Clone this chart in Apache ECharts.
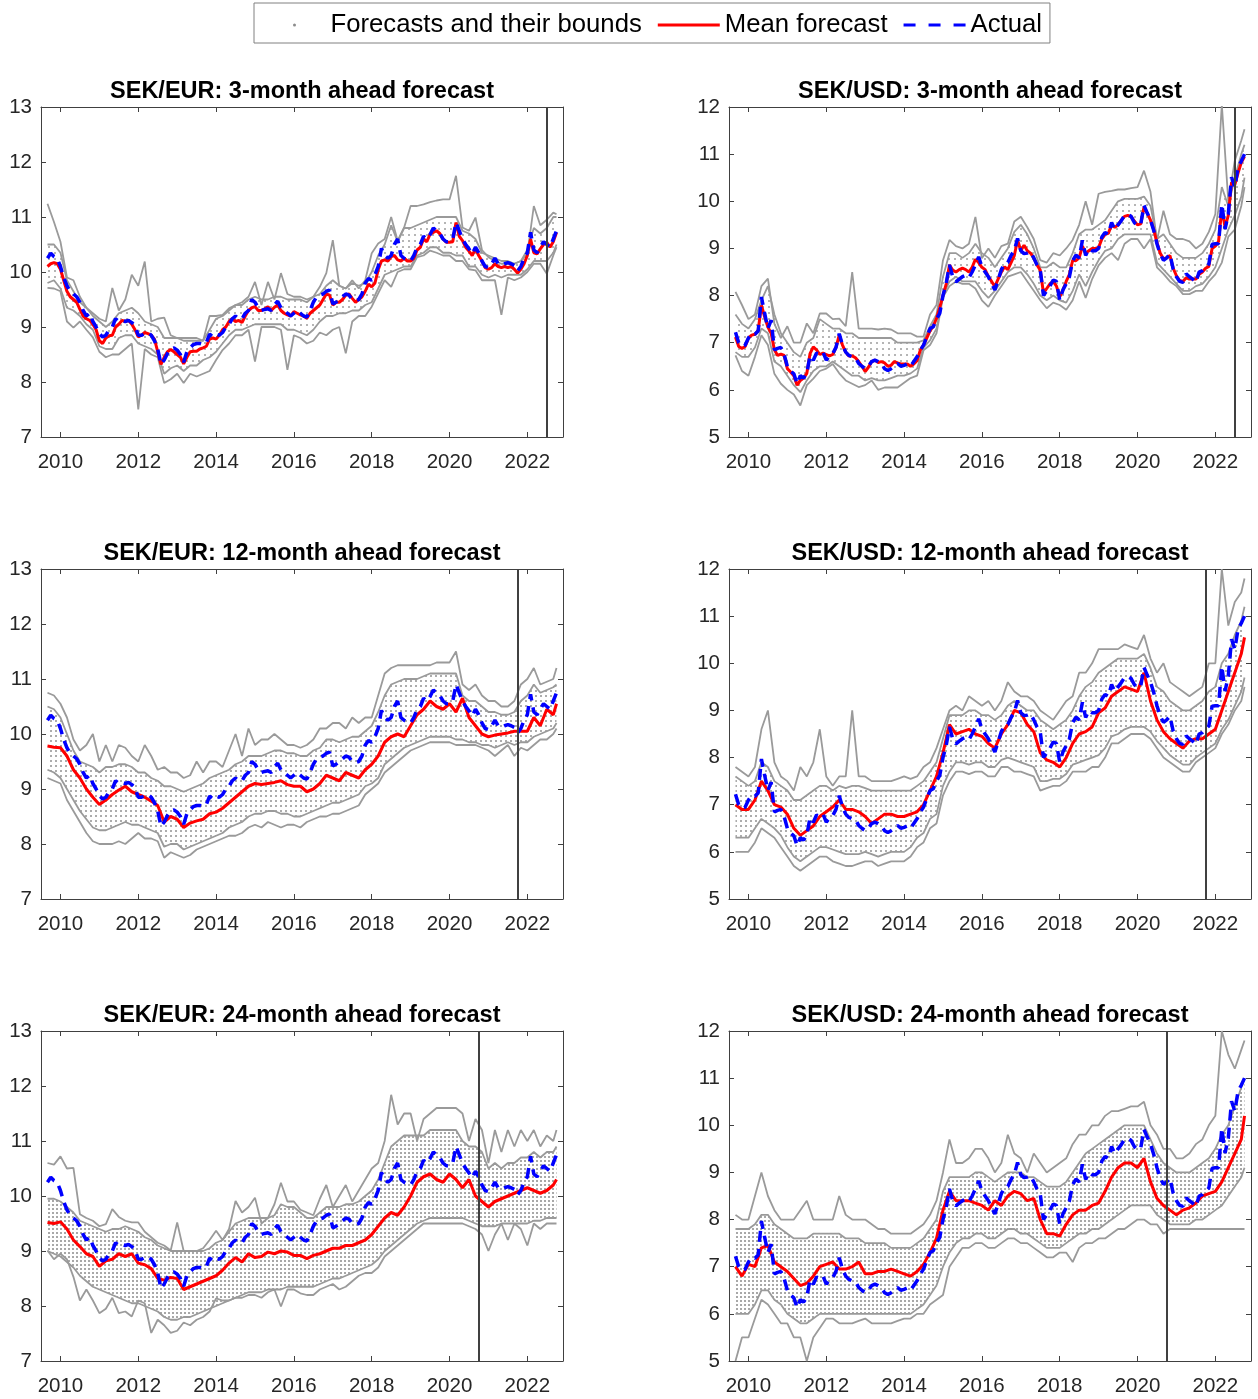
<!DOCTYPE html>
<html><head><meta charset="utf-8">
<script src="https://cdn.jsdelivr.net/npm/echarts@6/dist/echarts.min.js"></script>
<style>html,body{margin:0;padding:0;background:#fff}#c{width:1258px;height:1399px}</style>
</head><body><div id="c"></div><script>
// ---------- time grid: monthly Sep 2009 .. Oct 2022 ----------
const startYear = 2009, startMonthIndex = 8, monthCount = 158;
const yearTicks = [2010, 2012, 2014, 2016, 2018, 2020, 2022];
const titles = ['SEK/EUR: 3-month ahead forecast','SEK/USD: 3-month ahead forecast','SEK/EUR: 12-month ahead forecast','SEK/USD: 12-month ahead forecast','SEK/EUR: 24-month ahead forecast','SEK/USD: 24-month ahead forecast'];
const cutoffDates = [2022.5, 2022.5, 2021.75, 2021.75, 2020.75, 2020.75];

// ---------- actual exchange rates (monthly) ----------
const actualEUR = [
10.25,10.34,10.28,10.25,
10.1,9.9,9.75,9.65,9.6,9.55,9.45,9.3,9.2,9.25,9.1,9.0,
8.88,8.82,8.85,8.95,9.0,9.15,9.1,9.12,9.1,9.12,9.08,9.02,
8.85,8.85,8.88,8.9,8.85,8.75,8.6,8.32,8.4,8.52,8.6,8.62,
8.58,8.5,8.36,8.55,8.62,8.68,8.7,8.7,8.68,8.72,8.87,8.82,
8.87,8.85,8.9,9.0,9.05,9.15,9.2,9.15,9.15,9.25,9.3,9.5,
9.45,9.35,9.3,9.32,9.33,9.3,9.4,9.47,9.35,9.3,9.25,9.2,
9.25,9.3,9.25,9.2,9.18,9.3,9.45,9.55,9.58,9.6,9.65,9.67,
9.42,9.45,9.5,9.55,9.6,9.58,9.5,9.48,9.5,9.6,9.8,9.88,
9.85,9.95,10.1,10.43,10.3,10.25,10.3,10.5,10.6,10.3,10.25,10.22,
10.2,10.3,10.45,10.5,10.65,10.6,10.68,10.8,10.75,10.7,10.6,10.55,
10.55,10.6,10.9,10.75,10.6,10.5,10.42,10.33,10.45,10.35,10.2,10.1,
10.08,10.15,10.25,10.15,10.12,10.15,10.17,10.15,10.12,10.02,10.1,10.25,
10.35,10.72,10.4,10.35,10.45,10.55,10.5,10.45,10.6,10.75];
const actualUSD = [
7.22,7.0,6.92,6.95,
7.1,7.2,7.18,7.25,7.97,7.62,7.3,7.48,6.85,6.88,6.9,6.75,
6.5,6.4,6.34,6.13,6.3,6.25,6.35,6.73,6.63,6.78,6.75,6.8,
6.63,6.72,6.77,6.9,7.19,6.95,6.8,6.73,6.7,6.68,6.56,6.5,
6.45,6.5,6.6,6.63,6.6,6.55,6.45,6.41,6.45,6.5,6.56,6.5,
6.52,6.55,6.5,6.6,6.7,6.84,6.95,7.13,7.3,7.34,7.5,7.62,
8.0,8.26,8.65,8.4,8.29,8.35,8.4,8.43,8.38,8.5,8.65,8.82,
8.61,8.5,8.4,8.25,8.12,8.33,8.55,8.68,8.7,8.85,8.96,9.21,
8.95,8.89,8.9,8.93,8.8,8.65,8.54,8.0,8.1,8.2,8.33,8.3,
7.9,8.12,8.25,8.4,8.74,8.86,8.8,9.17,8.85,9.0,8.95,8.95,
9.0,9.24,9.34,9.3,9.55,9.4,9.5,9.59,9.7,9.72,9.68,9.55,
9.48,9.52,9.91,9.75,9.6,9.38,9.1,8.88,8.75,8.8,8.88,8.56,
8.4,8.3,8.28,8.46,8.4,8.35,8.28,8.5,8.53,8.6,8.67,9.09,
9.1,9.1,9.94,9.41,9.73,10.51,10.3,10.72,10.85,11.0];

// ---------- mean forecasts ----------
// 3-month horizon: monthly
const mean3EUR = [
10.1,10.15,10.17,10.15,
10.05,9.85,9.65,9.55,9.5,9.45,9.32,9.2,9.15,9.12,9.05,8.95,
8.75,8.7,8.8,8.84,8.85,9.0,9.05,9.12,9.1,9.12,9.05,8.95,
8.82,8.85,8.9,8.88,8.85,8.78,8.55,8.32,8.45,8.55,8.59,8.55,
8.5,8.45,8.33,8.45,8.55,8.56,8.56,8.6,8.62,8.65,8.78,8.8,
8.78,8.85,8.95,9.0,9.1,9.15,9.1,9.12,9.08,9.2,9.3,9.35,
9.37,9.3,9.3,9.33,9.37,9.3,9.36,9.4,9.3,9.25,9.22,9.2,
9.28,9.25,9.22,9.2,9.16,9.25,9.3,9.35,9.4,9.5,9.6,9.58,
9.4,9.45,9.45,9.5,9.58,9.6,9.52,9.45,9.5,9.55,9.65,9.78,
9.73,9.8,10.04,10.2,10.22,10.2,10.28,10.3,10.22,10.2,10.25,10.2,
10.2,10.25,10.4,10.45,10.6,10.55,10.69,10.72,10.75,10.7,10.6,10.54,
10.54,10.55,10.9,10.65,10.57,10.45,10.38,10.3,10.42,10.3,10.2,10.08,
10.05,10.08,10.15,10.1,10.08,10.1,10.08,10.1,10.05,9.98,10.05,10.15,
10.3,10.6,10.35,10.33,10.42,10.5,10.54,10.45,10.55,10.72];
const mean3USD = [
7.12,6.92,6.88,6.92,
7.1,7.16,7.18,7.26,7.79,7.55,7.33,7.2,6.85,6.73,6.76,6.73,
6.45,6.38,6.3,6.1,6.2,6.25,6.35,6.77,6.91,6.85,6.75,6.78,
6.75,6.72,6.75,6.9,7.16,6.95,6.8,6.72,6.72,6.68,6.6,6.5,
6.39,6.48,6.6,6.63,6.58,6.6,6.57,6.5,6.52,6.6,6.57,6.55,
6.55,6.55,6.5,6.55,6.62,6.84,6.95,7.1,7.25,7.35,7.52,7.75,
8.0,8.25,8.65,8.54,8.5,8.55,8.58,8.55,8.5,8.6,8.77,8.7,
8.6,8.55,8.4,8.3,8.19,8.35,8.5,8.61,8.55,8.7,8.85,9.18,
8.95,9.07,8.95,8.9,8.8,8.65,8.54,8.05,8.15,8.25,8.3,8.2,
7.97,8.12,8.3,8.45,8.75,8.74,8.8,9.05,8.9,8.95,9.0,9.0,
9.02,9.2,9.3,9.32,9.5,9.45,9.5,9.6,9.68,9.7,9.68,9.58,
9.5,9.52,9.88,9.75,9.6,9.4,9.12,8.9,8.78,8.8,8.85,8.58,
8.42,8.32,8.3,8.38,8.35,8.35,8.35,8.45,8.5,8.58,8.62,9.0,
9.05,9.15,9.85,9.45,9.7,10.4,10.35,10.6,10.82,10.95];
// 12- and 24-month horizons: every second month (Sep09, Nov09, Jan..Nov each year, 2022: Jan,Mar,May,Jul,Sep,Oct)
const mean12EUR = [9.78,9.76,
9.75,9.6,9.35,9.2,9.0,8.85, 8.72,8.8,8.9,8.98,9.05,8.95, 8.9,8.85,8.78,8.7,8.4,8.5,
8.45,8.3,8.38,8.42,8.45,8.55, 8.58,8.65,8.75,8.85,8.95,9.05, 9.1,9.08,9.1,9.12,9.15,9.08,
9.05,9.05,8.95,9.0,9.1,9.25, 9.2,9.15,9.3,9.25,9.2,9.35, 9.45,9.6,9.85,9.95,10.0,9.95,
10.15,10.35,10.45,10.6,10.5,10.45, 10.55,10.4,10.65,10.3,10.15,10.0, 9.95,9.98,10.0,10.02,10.05,10.05,
10.05,10.3,10.15,10.45,10.35,10.55];
const mean12USD = [7.0,6.9,
6.9,7.1,7.5,7.3,7.0,6.95, 6.8,6.5,6.35,6.45,6.55,6.75, 6.85,6.95,7.1,6.9,6.9,6.85,
6.75,6.6,6.7,6.8,6.8,6.75, 6.75,6.8,6.85,7.0,7.3,7.6, 8.1,8.7,8.5,8.55,8.6,8.5,
8.45,8.3,8.2,8.5,8.7,9.0, 8.95,8.7,8.55,8.1,7.95,7.9, 7.8,8.0,8.3,8.5,8.55,8.65,
8.95,9.05,9.3,9.4,9.5,9.45, 9.4,9.8,9.2,8.8,8.55,8.4, 8.3,8.2,8.35,8.4,8.4,8.5,
8.6,9.0,9.4,9.8,10.2,10.55];
const mean24EUR = [9.52,9.5,
9.53,9.4,9.2,9.08,8.95,8.9, 8.72,8.82,8.85,8.95,8.9,8.95, 8.78,8.75,8.68,8.5,8.47,8.52,
8.5,8.3,8.35,8.4,8.45,8.5, 8.55,8.65,8.78,8.88,8.8,8.95, 8.88,8.9,8.98,8.95,9.0,8.98,
8.92,8.92,8.86,8.92,8.95,9.0, 9.05,9.05,9.1,9.1,9.15,9.2, 9.3,9.45,9.6,9.7,9.65,9.8,
10.0,10.25,10.35,10.4,10.3,10.25, 10.4,10.3,10.15,10.3,10.0,9.9, 9.8,9.9,9.95,10.0,10.05,10.1,
10.15,10.1,10.05,10.1,10.2,10.3];
const mean24USD = [7.0,6.8,
7.05,7.0,7.4,7.45,7.1,7.0, 6.9,6.75,6.6,6.65,6.8,7.0, 7.05,7.1,6.95,6.95,7.0,7.1,
6.85,6.85,6.9,6.9,6.95,6.9, 6.85,6.8,6.9,7.05,7.3,7.6, 8.2,8.6,8.4,8.4,8.4,8.35,
8.3,8.2,8.4,8.3,8.5,8.6, 8.55,8.4,8.45,8.0,7.7,7.7, 7.65,7.9,8.1,8.2,8.2,8.3,
8.35,8.6,8.9,9.1,9.2,9.2, 9.1,9.3,8.8,8.45,8.3,8.2, 8.1,8.2,8.25,8.35,8.5,8.55,
8.6,8.8,9.1,9.4,9.7,10.2];

// ---------- bounds of the forecasts (every second month) ----------
const upperOuter3EUR = [11.24,10.91,
10.55,9.9,9.85,9.55,9.35,9.25, 9.15,9.1,9.71,9.3,9.5,9.95, 9.75,10.19,9.1,9.15,9.17,8.85,
8.8,8.8,8.8,8.8,8.75,9.2, 9.2,9.22,9.34,9.4,9.45,9.55, 9.82,9.4,9.82,9.5,9.98,9.6,
9.55,9.55,9.5,9.55,9.73,9.98, 10.58,9.75,9.7,9.85,9.7,9.85, 10.34,10.52,10.6,11.0,10.57,10.81,
11.2,11.2,11.23,11.27,11.3,11.32, 11.32,11.75,10.81,10.75,10.99,10.4, 10.27,10.2,10.15,10.15,10.15,10.2,
10.33,11.2,10.85,10.95,11.08,11.05];
const upperInner3EUR = [10.5,10.5,
10.35,9.85,9.65,9.45,9.35,9.2, 9.1,9.0,9.1,9.25,9.3,9.35, 9.25,9.1,9.05,9.0,8.8,8.8,
8.8,8.75,8.75,8.75,8.75,8.95, 9.15,9.2,9.3,9.4,9.4,9.5, 9.55,9.5,9.5,9.55,9.55,9.5,
9.5,9.5,9.45,9.55,9.6,9.75, 9.85,9.75,9.7,9.8,9.75,9.8, 10.0,10.3,10.5,10.85,10.55,10.8,
10.8,10.85,10.9,10.95,11.0,11.0, 11.0,11.0,10.75,10.7,10.6,10.35, 10.3,10.25,10.2,10.2,10.15,10.2,
10.4,10.8,10.7,10.8,11.0,11.0];
const lowerInner3EUR = [9.8,9.85,
9.7,9.35,9.3,9.2,9.05,8.95, 8.65,8.6,8.6,8.8,8.85,8.85, 8.7,8.65,8.6,8.5,8.15,8.25,
8.3,8.2,8.3,8.3,8.4,8.45, 8.55,8.7,8.85,8.95,8.95,9.0, 9.05,9.05,9.05,9.05,9.05,8.95,
8.95,8.9,8.85,8.95,9.1,9.2, 9.2,9.25,9.25,9.3,9.3,9.4, 9.45,9.7,9.95,10.0,10.05,10.1,
10.1,10.3,10.35,10.45,10.45,10.35, 10.35,10.3,10.3,10.1,10.1,9.95, 9.9,9.95,9.9,9.95,9.95,9.95,
10.05,10.2,10.2,10.2,10.35,10.5];
const lowerOuter3EUR = [9.71,9.7,
9.65,9.1,8.99,9.1,8.95,8.81, 8.55,8.45,8.5,8.5,8.6,8.7, 7.5,8.6,8.5,8.45,7.98,8.05,
8.15,7.98,8.15,8.1,8.15,8.2, 8.4,8.58,8.7,8.85,8.85,8.95, 8.37,9.0,9.0,9.0,8.95,8.22,
8.85,8.8,8.7,8.75,8.9,8.85, 8.95,9.0,8.52,9.1,9.2,9.2, 9.37,9.61,9.85,9.73,10.0,10.05,
10.05,10.27,10.3,10.39,10.35,10.3, 10.3,10.2,10.2,10.05,10.03,9.85, 9.85,9.85,9.22,9.9,9.85,9.9,
10.0,10.15,10.15,9.97,10.3,10.45];

const upperOuter3USD = [8.08,7.8,
7.5,7.6,8.2,8.36,7.4,7.1, 7.35,7.0,7.0,7.41,7.2,7.62, 7.62,7.5,7.51,7.35,8.5,7.3,
7.3,7.3,7.28,7.3,7.28,7.2, 7.2,7.2,7.13,7.13,7.6,7.8, 8.75,9.18,9.05,9.0,9.1,9.67,
8.79,9.0,8.8,9.05,9.1,9.57, 9.67,9.45,9.2,8.75,8.7,8.9, 8.85,9.0,9.18,9.5,10.0,9.5,
10.16,10.2,10.22,10.25,10.25,10.28, 10.3,10.65,10.2,9.17,9.8,9.3, 9.2,9.2,9.15,9.0,9.1,9.35,
9.73,12.05,10.0,10.86,11.29,11.53];
const upperInner3USD = [7.6,7.4,
7.3,7.5,7.9,8.2,7.6,7.2, 7.0,6.8,6.7,7.0,7.1,7.5, 7.4,7.3,7.3,7.2,7.2,7.1,
7.1,7.1,7.1,7.1,7.1,7.0, 7.0,7.0,7.0,7.05,7.35,7.6, 8.4,8.9,8.9,8.8,8.9,9.1,
8.9,8.8,8.6,8.8,9.0,9.35, 9.5,9.3,9.0,8.6,8.6,8.7, 8.6,8.6,8.9,9.3,9.4,9.4,
9.5,9.6,9.8,10.0,10.05,10.05, 10.05,10.1,9.9,9.2,9.3,9.1, 8.9,8.8,8.8,8.8,8.9,9.1,
9.4,10.3,9.9,10.5,11.0,11.2];
const lowerInner3USD = [6.8,6.7,
6.7,6.9,7.3,7.2,6.6,6.5, 6.3,6.1,5.95,6.2,6.4,6.5, 6.5,6.6,6.5,6.4,6.3,6.3,
6.2,6.25,6.2,6.2,6.25,6.3, 6.3,6.35,6.45,6.9,7.05,7.3, 8.0,8.3,8.4,8.3,8.3,8.3,
8.1,7.95,8.1,8.3,8.5,8.6, 8.6,8.45,8.25,8.0,7.9,8.0, 7.9,7.85,8.1,8.45,8.2,8.5,
8.75,8.95,9.0,9.2,9.3,9.3, 9.3,9.3,9.3,8.7,8.55,8.4, 8.25,8.1,8.1,8.2,8.25,8.4,
8.6,9.0,9.4,9.7,10.1,10.5];
const lowerOuter3USD = [6.73,6.4,
6.3,6.7,7.16,6.95,6.34,6.13, 6.0,5.9,5.67,6.1,6.24,6.4, 6.45,6.55,6.35,6.2,6.13,6.06,
6.1,6.2,6.0,6.05,6.05,6.05, 6.15,6.25,6.3,6.84,6.95,7.2, 7.97,8.2,8.3,8.25,8.25,8.15,
7.9,7.76,8.0,8.2,8.4,8.45, 8.5,8.3,8.1,7.9,7.73,7.85, 7.8,7.7,7.9,8.3,7.95,8.35,
8.64,8.8,8.9,8.75,9.1,9.2, 9.2,9.0,9.2,8.6,8.46,8.3, 8.2,8.03,8.03,8.1,8.1,8.3,
8.45,8.7,9.25,9.4,9.9,10.3];

const upperOuter12EUR = [10.75,10.7,
10.55,10.3,9.9,9.7,9.8,10.0, 9.5,9.8,9.5,9.8,9.75,9.6, 9.5,9.8,9.6,9.35,9.4,9.3,
9.3,9.2,9.25,9.5,9.3,9.5, 9.5,9.4,9.7,10.0,9.6,10.1, 9.8,9.9,9.9,10.0,9.9,9.8,
9.8,9.75,9.8,9.9,10.1,10.1, 10.2,10.2,10.1,10.3,10.2,10.3, 10.3,10.7,11.1,11.2,11.25,11.25,
11.25,11.25,11.25,11.25,11.3,11.3, 11.3,11.5,10.9,10.8,10.9,10.7, 10.6,10.6,10.5,10.5,10.6,10.9,
11.0,11.2,10.9,10.95,11.0,11.2];
const upperInner12EUR = [10.5,10.45,
10.3,10.0,9.7,9.5,9.45,9.4, 9.3,9.4,9.4,9.45,9.45,9.4, 9.3,9.3,9.2,9.15,9.05,9.05,
9.0,8.95,9.0,9.05,9.1,9.2, 9.25,9.3,9.35,9.45,9.5,9.6, 9.6,9.6,9.65,9.7,9.7,9.65,
9.65,9.6,9.6,9.7,9.75,9.9, 9.9,9.85,9.9,9.95,9.95,10.05, 10.15,10.4,10.7,10.9,10.95,11.0,
11.0,11.0,11.05,11.1,11.1,11.1, 11.1,11.1,10.7,10.6,10.6,10.5, 10.4,10.4,10.35,10.35,10.4,10.6,
10.7,10.9,10.75,10.8,10.85,10.9];
const lowerInner12EUR = [9.35,9.3,
9.2,9.0,8.8,8.6,8.45,8.3, 8.25,8.25,8.3,8.35,8.4,8.35, 8.35,8.3,8.25,8.2,7.95,8.0,
8.0,7.9,7.95,8.0,8.05,8.1, 8.15,8.2,8.3,8.35,8.4,8.5, 8.55,8.55,8.6,8.6,8.55,8.55,
8.5,8.5,8.55,8.6,8.65,8.7, 8.75,8.75,8.8,8.85,8.9,9.05, 9.1,9.2,9.45,9.55,9.65,9.75,
9.8,9.85,9.9,9.95,9.95,9.95, 9.95,9.9,9.9,9.85,9.85,9.8, 9.8,9.75,9.8,9.85,9.8,9.85,
9.85,9.95,10.0,10.05,10.1,10.2];
const lowerOuter12EUR = [9.2,9.15,
9.1,8.8,8.6,8.4,8.2,8.05, 8.0,8.0,8.0,8.05,8.0,8.1, 8.2,8.1,8.1,8.05,7.75,7.85,
7.8,7.75,7.8,7.9,7.95,8.0, 8.05,8.1,8.15,8.15,8.2,8.3, 8.35,8.3,8.4,8.35,8.3,8.35,
8.35,8.3,8.4,8.45,8.5,8.5, 8.55,8.55,8.6,8.65,8.7,8.9, 9.0,9.1,9.3,9.4,9.5,9.6,
9.7,9.75,9.8,9.85,9.85,9.85, 9.85,9.8,9.8,9.8,9.8,9.75, 9.7,9.6,9.7,9.8,9.6,9.75,
9.7,9.8,9.9,9.9,10.0,10.1];

const upperOuter12USD = [7.8,7.7,
7.6,7.8,8.6,9.0,7.9,7.6, 7.5,7.3,7.8,7.6,7.9,8.6, 7.6,7.4,7.6,7.6,9.0,7.6,
7.6,7.5,7.5,7.5,7.5,7.55, 7.6,7.55,7.6,7.8,7.9,8.2, 8.6,9.0,9.1,9.0,9.3,9.2,
9.1,9.2,9.0,9.2,9.6,9.4, 9.3,9.3,9.2,9.0,8.9,8.8, 9.0,9.2,9.3,9.8,9.8,10.0,
10.3,10.3,10.3,10.3,10.4,10.35, 10.3,10.6,10.1,9.8,10.0,9.6, 9.5,9.4,9.3,9.4,9.5,10.0,
10.0,12.0,10.8,11.3,11.5,11.8];
const upperInner12USD = [7.6,7.5,
7.4,7.5,7.9,7.8,7.5,7.4, 7.3,7.1,7.1,7.2,7.3,7.4, 7.4,7.3,7.4,7.35,7.4,7.4,
7.35,7.3,7.3,7.3,7.3,7.3, 7.3,7.3,7.4,7.5,7.7,7.9, 8.4,8.9,8.9,8.9,9.0,9.0,
8.9,8.9,8.8,8.9,9.1,9.2, 9.1,9.0,9.0,8.8,8.7,8.6, 8.7,8.8,9.0,9.3,9.5,9.6,
9.8,9.9,10.0,10.1,10.1,10.1, 10.1,10.2,9.9,9.5,9.4,9.2, 9.1,9.0,9.0,9.1,9.2,9.4,
9.5,10.0,10.2,10.6,10.9,11.2];
const lowerInner12USD = [6.3,6.3,
6.3,6.5,6.7,6.6,6.5,6.35, 6.1,5.9,5.8,5.9,6.0,6.1, 6.1,6.05,6.0,5.95,5.95,5.95,
6.0,5.95,5.9,5.95,6.0,6.0, 6.0,6.1,6.3,6.4,6.7,6.8, 7.4,7.7,7.9,7.9,7.85,7.9,
7.9,7.8,7.8,7.95,8.0,7.95, 7.9,7.85,7.8,7.5,7.5,7.55, 7.55,7.65,7.85,7.9,7.95,8.0,
8.05,8.2,8.45,8.5,8.6,8.65, 8.65,8.65,8.55,8.35,8.2,8.05, 7.95,7.85,7.85,8.0,8.1,8.2,
8.3,8.6,8.8,9.1,9.4,9.7];
const lowerOuter12USD = [6.0,6.0,
6.0,6.2,6.5,6.4,6.3,6.1, 5.9,5.7,5.6,5.7,5.8,5.9, 5.9,5.8,5.75,5.7,5.7,5.75,
5.8,5.8,5.7,5.75,5.8,5.8, 5.8,5.9,6.1,6.2,6.5,6.6, 7.2,7.5,7.7,7.7,7.65,7.7,
7.7,7.6,7.6,7.8,7.8,7.7, 7.7,7.65,7.6,7.3,7.35,7.4, 7.4,7.5,7.7,7.7,7.7,7.8,
7.8,8.0,8.3,8.3,8.4,8.5, 8.5,8.5,8.4,8.2,8.0,7.9, 7.8,7.7,7.7,7.9,8.0,8.1,
8.2,8.5,8.7,9.0,9.2,9.5];

const upperOuter24EUR = [10.6,10.57,
10.72,10.5,10.51,9.67,9.6,9.55, 9.45,9.49,9.76,9.62,9.55,9.52, 9.52,9.35,9.25,9.15,9.1,9.01,
9.52,9.0,9.0,9.0,9.05,9.2, 9.37,9.2,9.4,9.91,9.7,9.8, 9.97,9.5,9.6,9.85,10.24,9.9,
9.9,9.75,9.7,9.65,9.95,10.2, 9.8,10.0,10.2,9.9,10.1,10.3, 10.5,10.6,11.0,11.84,11.3,11.5,
11.5,11.0,11.4,11.5,11.6,11.6, 11.6,11.6,11.5,11.0,11.4,11.2, 10.6,11.2,10.8,11.2,10.9,11.2,
11.0,11.2,10.9,11.1,11.0,11.2];
const upperInner24EUR = [9.95,9.95,
9.9,9.8,9.7,9.55,9.5,9.45, 9.4,9.35,9.4,9.4,9.45,9.4, 9.35,9.25,9.2,9.1,9.05,9.0,
9.0,9.0,9.0,9.0,9.0,9.05, 9.15,9.2,9.35,9.5,9.55,9.6, 9.6,9.6,9.6,9.65,9.85,9.8,
9.8,9.7,9.6,9.6,9.7,9.8, 9.8,9.8,9.85,9.85,9.9,10.0, 10.1,10.3,10.6,10.9,11.0,11.1,
11.1,11.1,11.1,11.2,11.2,11.2, 11.2,11.2,11.0,10.9,10.9,10.8, 10.5,10.6,10.5,10.6,10.6,10.7,
10.7,10.8,10.7,10.8,10.8,10.9];
const lowerInner24EUR = [9.0,8.95,
8.9,8.8,8.7,8.55,8.45,8.35, 8.3,8.25,8.2,8.15,8.1,8.05, 8.05,8.0,7.95,7.9,7.8,7.75,
7.75,7.8,7.8,7.85,7.9,7.95, 8.0,8.05,8.1,8.15,8.2,8.25, 8.25,8.25,8.3,8.3,8.3,8.35,
8.35,8.35,8.35,8.35,8.4,8.45, 8.5,8.5,8.55,8.6,8.65,8.7, 8.75,8.85,9.0,9.1,9.2,9.3,
9.4,9.5,9.55,9.6,9.6,9.6, 9.6,9.6,9.6,9.55,9.5,9.45, 9.45,9.45,9.5,9.5,9.5,9.5,
9.5,9.55,9.55,9.6,9.6,9.6];
const lowerOuter24EUR = [9.01,8.85,
8.95,8.85,8.53,8.1,8.3,8.1, 7.87,7.95,8.15,7.87,7.9,7.81, 8.1,8.05,7.51,7.75,7.65,7.51,
7.55,7.7,7.65,7.75,7.8,7.9, 8.14,8.1,8.1,8.15,8.15,8.2, 8.2,8.15,8.25,8.3,7.99,8.3,
8.3,8.23,8.2,8.2,8.3,8.35, 8.4,8.3,8.35,8.45,8.55,8.6, 8.6,8.7,8.9,9.0,9.1,9.2,
9.3,9.4,9.5,9.5,9.5,9.5, 9.5,9.5,9.5,9.45,9.4,9.3, 9.0,9.3,9.5,9.2,9.5,9.4,
9.1,9.5,9.4,9.5,9.5,9.5];

const upperOuter24USD = [8.1,8.0,
8.0,8.5,9.0,8.5,8.2,8.0, 8.0,8.0,8.2,8.4,8.0,8.0, 8.0,8.0,8.5,8.1,8.0,8.0,
8.0,7.9,7.8,7.8,7.7,7.7, 7.7,7.7,7.8,7.9,8.1,8.4, 9.0,9.7,9.2,9.2,9.3,9.5,
9.5,9.3,9.0,9.2,9.8,9.4, 9.3,9.0,9.4,9.2,9.0,9.1, 9.2,9.3,9.6,9.8,9.8,10.0,
10.0,10.2,10.3,10.3,10.35,10.4, 10.4,10.5,10.0,9.8,9.5,9.5, 9.3,9.3,9.4,9.6,9.7,10.0,
10.2,12.0,11.5,11.2,11.6,11.8];
const upperInner24USD = [7.8,7.8,
7.8,7.9,8.1,8.1,7.9,7.8, 7.7,7.6,7.6,7.6,7.7,7.7, 7.7,7.7,7.7,7.6,7.6,7.6,
7.5,7.5,7.5,7.5,7.4,7.4, 7.4,7.4,7.5,7.6,7.8,8.0, 8.6,8.9,8.9,8.9,8.9,9.0,
9.0,8.9,8.8,8.9,9.0,9.0, 9.0,8.9,8.9,8.8,8.7,8.7, 8.7,8.8,9.0,9.2,9.4,9.5,
9.6,9.7,9.8,9.9,10.0,10.0, 10.0,10.0,9.7,9.4,9.2,9.1, 9.0,9.0,9.0,9.1,9.2,9.3,
9.5,9.8,10.0,10.4,10.8,11.0];
const lowerInner24USD = [6.0,6.0,
6.0,6.2,6.5,6.5,6.3,6.2, 6.0,5.9,5.8,5.8,5.9,6.0, 6.0,6.0,6.0,6.0,6.0,6.0,
6.0,6.0,6.0,6.0,6.0,6.0, 6.0,6.0,6.1,6.2,6.4,6.6, 7.0,7.3,7.5,7.6,7.6,7.7,
7.7,7.6,7.6,7.7,7.8,7.8, 7.7,7.7,7.6,7.5,7.4,7.4, 7.4,7.5,7.6,7.7,7.7,7.8,
7.8,7.9,8.0,8.1,8.2,8.3, 8.3,8.3,8.3,8.1,8.0,7.9, 7.9,7.9,7.9,8.0,8.0,8.1,
8.2,8.3,8.5,8.7,8.9,9.1];
const lowerOuter24USD = [5.0,5.5,
5.5,5.9,6.3,6.2,6.0,5.8, 5.8,5.5,5.5,5.0,5.5,5.7, 5.9,5.9,5.8,5.8,5.8,5.85,
5.9,5.8,5.8,5.8,5.8,5.85, 5.9,5.9,6.0,6.0,6.2,6.3, 6.4,7.0,7.2,7.4,7.4,7.5,
7.5,7.4,7.4,7.5,7.6,7.6, 7.5,7.5,7.4,7.3,7.2,7.2, 7.3,7.3,7.1,7.4,7.5,7.5,
7.6,7.6,7.7,7.8,7.8,7.9, 8.0,8.0,7.9,7.9,7.7,7.8, 7.8,7.8,7.8,7.8,7.8,7.8,
7.8,7.8,7.8,7.8,7.8,7.8];

// ---------- build the chart ----------
const monthlyX = Array.from({length: monthCount}, (_, k) => startYear + (startMonthIndex + k) / 12);
const biIdx = []; for (let k = 0; k < monthCount - 1; k += 2) biIdx.push(k); biIdx.push(monthCount - 1);
const biX = biIdx.map(k => monthlyX[k]);
const pairs = (xs, ys) => ys.map((y, k) => [xs[k], y]);

function dotPattern(w, h, color) {
  const c = document.createElement('canvas'); c.width = w; c.height = h;
  const g = c.getContext('2d'); g.fillStyle = color; g.fillRect(0, 0, 2, 2);
  return { image: c, repeat: 'repeat' };
}
const patterns = { sparse: dotPattern(6, 6, '#b5b5b5'), medium: dotPattern(5, 5, '#acacac'), dense: dotPattern(4, 4, '#a8a8a8') };

const panels = [
  {mean: mean3EUR, meanX: monthlyX, actual: actualEUR, uo: upperOuter3EUR, ui: upperInner3EUR, li: lowerInner3EUR, lo: lowerOuter3EUR, ymin: 7, ymax: 13, pat: 'sparse'},
  {mean: mean3USD, meanX: monthlyX, actual: actualUSD, uo: upperOuter3USD, ui: upperInner3USD, li: lowerInner3USD, lo: lowerOuter3USD, ymin: 5, ymax: 12, pat: 'sparse'},
  {mean: mean12EUR, meanX: biX, actual: actualEUR, uo: upperOuter12EUR, ui: upperInner12EUR, li: lowerInner12EUR, lo: lowerOuter12EUR, ymin: 7, ymax: 13, pat: 'medium'},
  {mean: mean12USD, meanX: biX, actual: actualUSD, uo: upperOuter12USD, ui: upperInner12USD, li: lowerInner12USD, lo: lowerOuter12USD, ymin: 5, ymax: 12, pat: 'medium'},
  {mean: mean24EUR, meanX: biX, actual: actualEUR, uo: upperOuter24EUR, ui: upperInner24EUR, li: lowerInner24EUR, lo: lowerOuter24EUR, ymin: 7, ymax: 13, pat: 'dense'},
  {mean: mean24USD, meanX: biX, actual: actualUSD, uo: upperOuter24USD, ui: upperInner24USD, li: lowerInner24USD, lo: lowerOuter24USD, ymin: 5, ymax: 12, pat: 'dense'}
];

const FONT = "'Liberation Sans', Arial, Helvetica, sans-serif";
const AX = '#404040';
const gridLefts = [41, 729], gridTops = [107, 569, 1031], GW = 522, GH = 330;
const grids = [], xAxes = [], yAxes = [], titleArr = [], series = [];

panels.forEach((p, i) => {
  const col = i % 2, row = Math.floor(i / 2);
  grids.push({left: gridLefts[col], top: gridTops[row], width: GW, height: GH, containLabel: false, outerBoundsMode: 'none'});
  titleArr.push({text: titles[i], left: gridLefts[col] + GW / 2, top: gridTops[row] - 27, textAlign: 'center', padding: 0,
    textStyle: {fontFamily: FONT, fontSize: 23.5, fontWeight: 'bold', color: '#000'}});
  const xCommon = {type: 'value', gridIndex: i, min: 2009.5, max: 2022.9167, splitLine: {show: false},
    axisLine: {show: true, onZero: false, lineStyle: {color: AX, width: 1}},
    axisTick: {show: true, inside: true, length: 5, customValues: yearTicks, lineStyle: {color: AX}}};
  xAxes.push(Object.assign({}, xCommon, {position: 'bottom',
    axisLabel: {show: true, customValues: yearTicks, margin: 15, fontFamily: FONT, fontSize: 20.5, color: '#262626', formatter: v => String(Math.round(v))}}));
  xAxes.push(Object.assign({}, xCommon, {position: 'top', axisLabel: {show: false}}));
  const yCommon = {type: 'value', gridIndex: i, min: p.ymin, max: p.ymax, interval: 1, splitLine: {show: false},
    axisLine: {show: true, onZero: false, lineStyle: {color: AX, width: 1}},
    axisTick: {show: true, inside: true, length: 5, lineStyle: {color: AX}}};
  yAxes.push(Object.assign({}, yCommon, {position: 'left',
    axisLabel: {show: true, margin: 9, fontFamily: FONT, fontSize: 20.5, color: '#262626'}}));
  yAxes.push(Object.assign({}, yCommon, {position: 'right', axisLabel: {show: false}}));

  const xi = 2 * i, yi = 2 * i;
  const pat = patterns[p.pat];
  series.push({
    type: 'custom', name: 'Forecasts and their bounds', xAxisIndex: xi, yAxisIndex: yi, z: 1, silent: true, clip: true,
    itemStyle: {color: '#8c8c8c'},
    data: biX.map((x, k) => [x, p.ui[k], p.li[k]]), encode: {x: 0, y: [1, 2]},
    renderItem: (params, api) => {
      if (params.dataIndex !== 0) return null;
      const up = [], lo = [];
      for (let k = 0; k < p.ui.length; k++) { up.push(api.coord([biX[k], p.ui[k]])); lo.push(api.coord([biX[k], p.li[k]])); }
      return {type: 'polygon', shape: {points: up.concat(lo.reverse())}, style: {fill: pat, stroke: null}};
    }
  });
  [p.uo, p.ui, p.li, p.lo].forEach(arr => {
    series.push({type: 'line', name: 'Forecasts and their bounds', xAxisIndex: xi, yAxisIndex: yi, z: 2, silent: true,
      symbol: 'none', color: '#999999', lineStyle: {color: '#9a9a9a', width: 1.8}, data: pairs(biX, arr)});
  });
  series.push({type: 'line', name: 'Mean forecast', xAxisIndex: xi, yAxisIndex: yi, z: 3, silent: true,
    symbol: 'none', color: '#ff0000', itemStyle: {color: '#ff0000'}, lineStyle: {color: '#ff0000', width: 3}, data: pairs(p.meanX, p.mean)});
  series.push({type: 'line', name: 'Actual', xAxisIndex: xi, yAxisIndex: yi, z: 4, silent: true,
    symbol: 'none', color: '#0000ff', itemStyle: {color: '#0000ff'}, lineStyle: {color: '#0000ff', width: 3.5, type: [11, 7]}, data: pairs(monthlyX, p.actual),
    markLine: {silent: true, symbol: 'none', label: {show: false}, lineStyle: {color: '#404040', width: 2, type: 'solid'}, data: [{xAxis: cutoffDates[i]}]}});
});

const chart = echarts.init(document.getElementById('c'), null, {renderer: 'canvas'});
chart.setOption({
  animation: false,
  backgroundColor: '#fff',
  title: titleArr,
  legend: {
    left: 254, top: 3, padding: [9, 8, 5, 39], itemGap: 16, itemWidth: 62, itemHeight: 3,
    borderColor: '#808080', borderWidth: 1, selectedMode: false,
    textStyle: {fontFamily: FONT, fontSize: 25.7, color: '#000'},
    data: [
      {name: 'Forecasts and their bounds', icon: 'path://M1,0A1,1,0,1,1,1,2A1,1,0,1,1,1,0Z', itemStyle: {color: '#8c8c8c'}},
      {name: 'Mean forecast', icon: 'path://M0,0H62V3H0Z', itemStyle: {color: '#ff0000'}},
      {name: 'Actual', icon: 'path://M0,0H12V3H0Z M25,0H37V3H25Z M50,0H62V3H50Z', itemStyle: {color: '#0000ff'}}
    ]
  },
  grid: grids, xAxis: xAxes, yAxis: yAxes, series: series
});
</script></body></html>
